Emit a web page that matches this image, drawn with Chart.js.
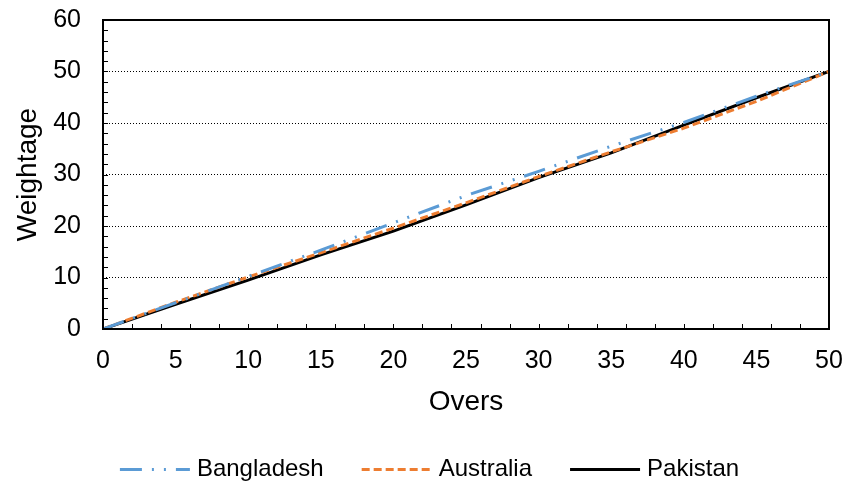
<!DOCTYPE html>
<html>
<head>
<meta charset="utf-8">
<script src="https://cdn.jsdelivr.net/npm/chart.js@4"></script>
<style>
  html, body { margin: 0; padding: 0; background: #fff; }
  #wrap { width: 847px; height: 485px; }
</style>
</head>
<body>
<div id="wrap"><canvas id="chart" width="847" height="485"></canvas></div>
<script>
// weightage of each over for the three teams
const overs = [0, 5, 10, 15, 20, 25, 30, 35, 40, 45, 50];
const bangladesh = [0, 5.1, 10.2, 15.3, 20.6, 25.9, 30.6, 35.5, 40.1, 45.2, 50];
const australia = [0, 5.2, 10.1, 14.8, 19.6, 24.5, 29.6, 34.4, 39.0, 44.2, 50];
const pakistan = [0, 4.8, 9.5, 14.4, 19.0, 24.1, 29.4, 34.2, 39.6, 44.9, 50];
const yTicks = [0, 10, 20, 30, 40, 50, 60];
const xTicks = [0, 5, 10, 15, 20, 25, 30, 35, 40, 45, 50];

const FONT = '"Liberation Sans", Arial, sans-serif';
const pts = vals => overs.map((o, i) => ({ x: o, y: vals[i] }));

// box round the plot plus short inward tick marks every 2 units
const frame = {
  id: 'frame',
  afterDatasetsDraw(chart) {
    const { ctx, chartArea: a, scales: { x, y } } = chart;
    ctx.save();
    ctx.strokeStyle = '#000';
    ctx.lineWidth = 1;
    ctx.beginPath();
    for (let v = 2; v < 60; v += 2) {
      const py = Math.round(y.getPixelForValue(v)) + 0.5;
      ctx.moveTo(a.left, py);
      ctx.lineTo(a.left + 5, py);
    }
    for (let v = 2; v < 50; v += 2) {
      const px = Math.round(x.getPixelForValue(v)) + 0.5;
      ctx.moveTo(px, a.bottom);
      ctx.lineTo(px, a.bottom - 5);
    }
    ctx.stroke();
    ctx.lineWidth = 2;
    ctx.strokeRect(a.left, a.top, a.right - a.left, a.bottom - a.top);
    ctx.restore();
  }
};

// legend keys: dashed line samples drawn where the legend left room for them
const legendLines = {
  id: 'legendLines',
  afterDraw(chart) {
    const { ctx, legend } = chart;
    ctx.save();
    legend.legendHitBoxes.forEach((hb, i) => {
      const ds = chart.data.datasets[i];
      const cy = Math.round(hb.top + hb.height / 2) + 0.5;
      ctx.strokeStyle = ds.borderColor;
      ctx.lineWidth = ds.borderWidth;
      ctx.setLineDash(ds.borderDash || []);
      ctx.beginPath();
      ctx.moveTo(hb.left, cy);
      ctx.lineTo(hb.left + 70, cy);
      ctx.stroke();
    });
    ctx.restore();
  }
};

new Chart(document.getElementById('chart'), {
  type: 'line',
  data: {
    datasets: [
      { label: 'Bangladesh', data: pts(bangladesh), borderColor: '#5B9BD5', borderWidth: 3,
        borderDash: [22, 10, 2, 10, 2, 10] },
      { label: 'Australia', data: pts(australia), borderColor: '#ED7D31', borderWidth: 3,
        borderDash: [8, 4] },
      { label: 'Pakistan', data: pts(pakistan), borderColor: '#000000', borderWidth: 3 }
    ]
  },
  options: {
    responsive: false,
    animation: false,
    events: [],
    elements: { point: { radius: 0 }, line: { tension: 0, fill: false } },
    layout: { padding: { top: 20, right: 18, left: 30, bottom: -6 } },
    scales: {
      x: {
        type: 'linear', min: 0, max: 50,
        afterBuildTicks: s => { s.ticks = xTicks.map(v => ({ value: v })); },
        afterFit: s => { s.height = 90; s.paddingLeft = 0; s.paddingRight = 0; },
        grid: { display: false, drawTicks: false },
        border: { display: false },
        ticks: { color: '#000', padding: 17, maxRotation: 0, font: { family: FONT, size: 25 } },
        title: { display: true, text: 'Overs', color: '#000', padding: { top: 4, bottom: 0 },
          font: { family: FONT, size: 28 } }
      },
      y: {
        min: 0, max: 60,
        afterBuildTicks: s => { s.ticks = yTicks.map(v => ({ value: v })); },
        afterFit: s => { s.width = 73; s.paddingTop = 0; s.paddingBottom = 0; },
        grid: {
          drawTicks: false,
          color: c => (c.tick.value > 0 && c.tick.value < 60) ? '#000' : 'rgba(0,0,0,0)',
          lineWidth: 1
        },
        border: { display: false, dash: [1, 2] },
        ticks: { color: '#000', padding: 22, font: { family: FONT, size: 25 } },
        title: { display: true, text: 'Weightage', color: '#000', padding: { top: -19, bottom: 4 },
          font: { family: FONT, size: 28 } }
      }
    },
    plugins: {
      legend: {
        position: 'bottom',
        labels: {
          boxWidth: 65, boxHeight: 0, padding: 38, color: '#000',
          font: { family: FONT, size: 24 },
          generateLabels: chart => chart.data.datasets.map((ds, i) => ({
            text: ds.label, datasetIndex: i, fillStyle: 'rgba(0,0,0,0)',
            strokeStyle: 'rgba(0,0,0,0)', lineWidth: 0, fontColor: '#000'
          }))
        }
      },
      tooltip: { enabled: false }
    }
  },
  plugins: [frame, legendLines]
});
</script>
</body>
</html>
